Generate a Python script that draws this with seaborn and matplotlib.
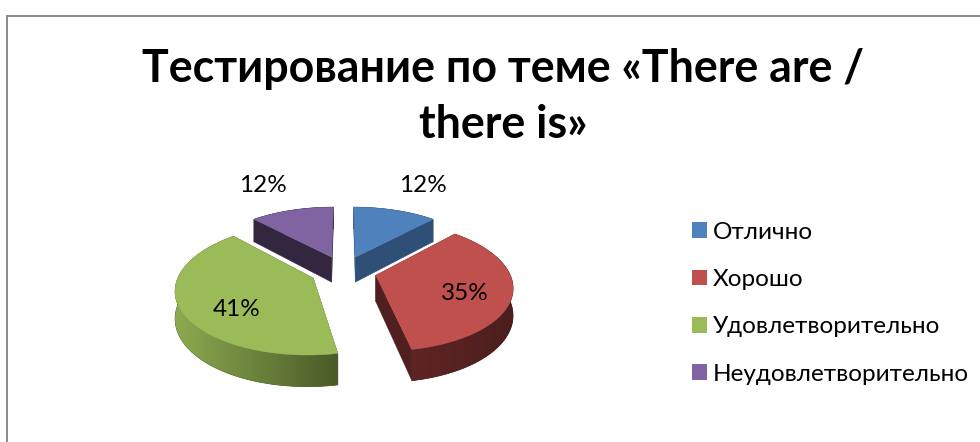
import numpy as np
import seaborn as sns
import matplotlib.pyplot as plt
from matplotlib.colors import LinearSegmentedColormap
from matplotlib.patches import Patch, Polygon

# Chart data
categories = ['Отлично', 'Хорошо', 'Удовлетворительно', 'Неудовлетворительно']
values = [12, 35, 41, 12]
title_text = 'Тестирование по теме «There are /\nthere is»'

# Colours per slice
top_colors = ['#4f81bd', '#c0504d', '#9bbb59', '#8064a2']
wall_colors = ['#2f4f76', '#4f201f', '#4a5a28', '#32273f']
rim_left = ['#2f4f76', '#5e2524', '#8cab50', '#32273f']
rim_right = ['#2f4f76', '#4c1e1e', '#4a5a28', '#32273f']

label_xy = [(423, 186), (465, 294), (237, 309), (263, 186)]

sns.set_theme(style='white')
plt.rcParams['font.family'] = ['Lato', 'Noto Sans', 'DejaVu Sans']

# Perspective settings of the fake 3D pie, in pixels
CX, CY = 343.5, 271
SX, SY = 133, 62
PERSP = 0.16
EXPLODE = 0.25
DEPTH = 26


def project(x, y, drop=0.0):
    w = 1 + PERSP * y
    return CX + SX * x / w, CY - SY * y / w + drop * DEPTH / w


fig = plt.figure(figsize=(9.8, 4.42), dpi=100)
ax = fig.add_axes([0, 0, 1, 1])

# Frame, only top and left are visible in the crop
ax.plot([7, 7, 985], [447, 15.5, 15.5], color='#8a8a8a', lw=1.4, solid_joinstyle='miter')

# Slice angles, clockwise from 12 o'clock
shares = np.array(values) / sum(values) * 2 * np.pi
ends = np.cumsum(shares)
starts = ends - shares

# back slices first
for n, i in enumerate([3, 0, 2, 1]):
    z = 2 + n * 3
    mid = (starts[i] + ends[i]) / 2
    ox, oy = EXPLODE * np.sin(mid), EXPLODE * np.cos(mid)
    th = np.linspace(starts[i], ends[i], 120)
    rx, ry = ox + np.sin(th), oy + np.cos(th)

    # side walls from the apex
    for j in [0, -1]:
        wall = [project(ox, oy), project(rx[j], ry[j]), project(rx[j], ry[j], 1), project(ox, oy, 1)]
        ax.add_patch(Polygon(wall, closed=True, fc=wall_colors[i], ec=wall_colors[i], lw=0.3, zorder=z))

    # rim with a left to right shade, clipped gradient over a plain base
    upper = [project(a, b) for a, b in zip(rx, ry)]
    lower = [project(a, b, 1) for a, b in zip(rx, ry)]
    rim = upper + lower[::-1]
    ax.add_patch(Polygon(rim, closed=True, fc=rim_right[i], ec=rim_right[i], lw=0.5, zorder=z))
    clip = Polygon(rim, closed=True, transform=ax.transData, fc='none', ec='none', zorder=z)
    ax.add_patch(clip)
    xs = [p[0] for p in rim]
    ys = [p[1] for p in rim]
    cmap = LinearSegmentedColormap.from_list('rim', [rim_left[i], rim_right[i]])
    img = ax.imshow(np.linspace(0, 1, 256).reshape(1, -1), cmap=cmap, aspect='auto', zorder=z + 1,
                    extent=(min(xs), max(xs), max(ys), min(ys)), interpolation='bilinear')
    img.set_clip_path(clip)

    # top face
    outline = [project(ox, oy)] + upper
    ax.add_patch(Polygon(outline, closed=True, fc=top_colors[i], ec=top_colors[i], lw=0.3, zorder=z + 2))

ax.set_xlim(0, 980)
ax.set_ylim(442, 0)
ax.axis('off')

for v, (x, y) in zip(values, label_xy):
    ax.text(x, y, f'{v}%', ha='center', va='center', fontsize=17.5, color='black', zorder=20)

ax.text(503, 97, title_text, ha='center', va='center', fontsize=32.2, fontweight='bold',
        color='black', linespacing=1.39)

handles = [Patch(fc=c, ec='none') for c in top_colors]
ax.legend(handles, categories, loc='upper left', bbox_to_anchor=(0.706, 0.498), frameon=False,
          fontsize=17.5, handlelength=0.62, handleheight=0.62, handletextpad=0.25,
          labelspacing=1.08, borderpad=0, borderaxespad=0, labelcolor='black')

plt.savefig('out.png', dpi=100)
